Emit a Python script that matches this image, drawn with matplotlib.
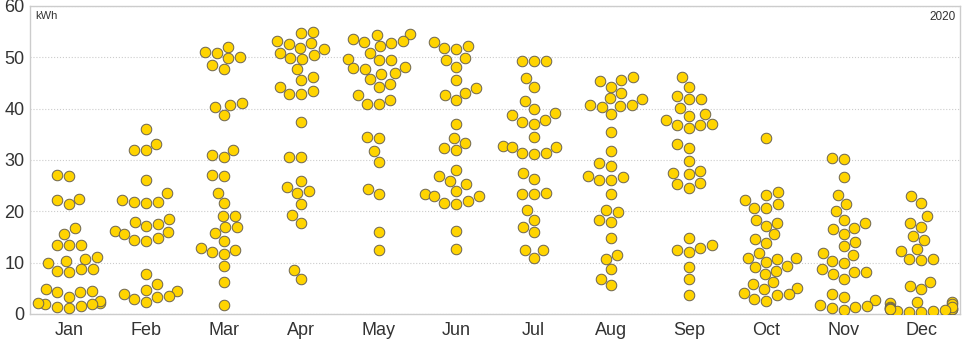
import warnings

import numpy as np
import pandas as pd
import matplotlib
matplotlib.use("Agg")
import matplotlib.pyplot as plt
import seaborn as sns

warnings.filterwarnings("ignore")

# daily energy (kWh) per month
months = ["Jan", "Feb", "Mar", "Apr", "May", "Jun",
          "Jul", "Aug", "Sep", "Oct", "Nov", "Dec"]

jan = [27.1, 26.9, 22.2, 21.4, 22.5, 16.7, 15.5, 13.4, 13.4, 13.4, 11.2, 10.4,
       10.8, 9.9, 8.4, 8.2, 8.7, 8.7, 4.5, 4.3, 4.2, 4.9, 3.4, 2.1, 1.9, 1.4,
       1.1, 1.6, 2.1, 2.6, 2.0]
feb = [36.0, 32.0, 31.9, 33.1, 26.1, 23.5, 22.2, 21.8, 21.6, 21.9, 18.6, 17.5,
       17.2, 18.0, 16.2, 15.5, 16.0, 14.4, 14.3, 14.9, 7.8, 5.8, 4.5, 3.9, 2.9,
       2.4, 3.4, 3.6, 4.7]
mar = [52.1, 50.9, 49.8, 50.0, 51.1, 48.5, 47.7, 40.4, 40.7, 41.2, 38.8, 31.0,
       30.5, 31.9, 27.1, 26.8, 23.6, 21.6, 19.1, 19.1, 15.7, 16.9, 16.9, 14.2,
       12.9, 12.0, 11.7, 12.5, 9.4, 6.3, 1.8]
apr = [54.7, 55.0, 51.9, 52.6, 52.7, 53.1, 50.5, 51.6, 49.7, 49.8, 50.8, 47.7,
       45.6, 46.2, 44.3, 42.9, 42.9, 43.5, 37.5, 30.6, 30.5, 25.9, 24.0, 23.5,
       24.7, 21.4, 19.3, 17.8, 8.6, 6.8]
may = [54.5, 54.4, 53.2, 52.9, 52.2, 52.7, 53.5, 50.9, 49.4, 49.4, 49.7, 48.2,
       46.9, 46.8, 47.8, 47.9, 44.8, 44.2, 45.8, 42.6, 41.0, 41.0, 41.6, 34.4,
       34.2, 31.8, 29.7, 24.3, 23.4, 15.9, 12.5]
jun = [52.2, 51.7, 51.8, 53.0, 49.5, 49.8, 48.2, 45.6, 42.6, 41.6, 43.1, 44.0,
       37.1, 34.2, 33.4, 32.3, 31.9, 28.1, 26.8, 25.9, 25.3, 24.0, 23.4, 22.9,
       21.6, 21.4, 22.0, 22.9, 16.2, 12.6]
jul = [49.3, 49.2, 49.3, 45.9, 44.2, 41.5, 40.0, 39.1, 38.8, 37.5, 37.1, 37.8,
       34.4, 32.8, 32.6, 31.3, 31.1, 31.4, 32.6, 27.4, 26.3, 23.4, 23.4, 23.5,
       20.3, 18.4, 16.9, 16.0, 12.5, 11.0, 12.5]
aug = [46.2, 44.3, 45.3, 45.6, 43.0, 42.0, 40.7, 40.4, 39.0, 40.6, 40.7, 41.8,
       35.4, 31.8, 29.4, 28.9, 26.8, 26.1, 26.1, 26.6, 23.4, 20.3, 19.9, 18.3,
       18.0, 14.9, 11.5, 10.7, 8.7, 6.9, 5.6]
sep = [46.1, 44.3, 41.9, 41.9, 42.5, 40.2, 39.0, 38.6, 37.7, 36.8, 36.3, 36.9,
       37.1, 33.1, 32.4, 29.9, 27.4, 27.2, 27.9, 25.3, 24.5, 25.5, 14.9, 13.4,
       12.5, 12.0, 12.9, 9.1, 6.8, 3.7]
oct_ = [34.2, 23.2, 23.7, 22.2, 20.7, 20.6, 21.4, 18.4, 17.7, 17.1, 15.5, 14.7,
        13.8, 11.9, 11.0, 10.7, 11.0, 10.1, 8.4, 9.2, 9.4, 7.8, 6.2, 5.0, 4.8,
        5.8, 3.9, 2.9, 2.6, 3.7, 4.0]
nov = [30.3, 30.1, 26.6, 23.2, 21.4, 20.1, 18.4, 17.7, 16.5, 16.8, 15.5, 14.1,
       13.2, 11.9, 11.5, 10.4, 10.0, 8.7, 7.7, 6.8, 8.1, 8.2, 3.9, 3.4, 2.7,
       1.8, 1.1, 0.8, 1.4, 1.6]
dec = [22.9, 21.7, 19.0, 17.7, 17.0, 14.4, 15.1, 12.3, 12.6, 10.7, 10.5, 10.7,
       6.3, 5.5, 4.8, 2.4, 2.4, 2.1, 1.4, 1.1, 0.9, 1.0, 0.5, 0.3, 0.6, 1.0,
       1.9, 1.3, 0.9, 0.7, 0.4]

year_label = "2020"
unit_label = "kWh"

series = [jan, feb, mar, apr, may, jun, jul, aug, sep, oct_, nov, dec]
df = pd.DataFrame({
    "month": np.repeat(months, [len(s) for s in series]),
    "kwh": np.concatenate(series),
})

TEXT = "#333333"

fig = plt.figure(figsize=(9.64, 3.42), dpi=100)
ax = fig.add_axes([30 / 964, 1 - 314 / 342, 930 / 964, 308 / 342])

sns.swarmplot(data=df, x="month", y="kwh", order=months, ax=ax,
              color="#FFD400", edgecolor="#6b6350", linewidth=0.7, size=7.6,
              zorder=3)

ax.set_ylim(0, 60)
ax.set_xlim(-0.5, 11.5)
ax.set_yticks(range(0, 61, 10))
ax.set_xlabel("")
ax.set_ylabel("")
ax.grid(axis="y", color="#cccccc", linestyle=":", linewidth=0.8, zorder=0)
ax.grid(axis="x", visible=False)
for sp in ax.spines.values():
    sp.set_color("#cccccc")
    sp.set_linewidth(1.0)
ax.tick_params(length=0, labelsize=13, colors=TEXT)
ax.tick_params(axis="x", pad=6)
ax.tick_params(axis="y", pad=4)
for lbl in ax.get_xticklabels() + ax.get_yticklabels():
    lbl.set_family("Liberation Sans")

ax.text(0.006, 0.985, unit_label, transform=ax.transAxes, ha="left", va="top",
        fontsize=8, color=TEXT, family="Liberation Sans")
ax.text(0.995, 0.985, year_label, transform=ax.transAxes, ha="right", va="top",
        fontsize=8.5, color=TEXT, family="Liberation Sans")

fig.savefig("out.png", dpi=100)
